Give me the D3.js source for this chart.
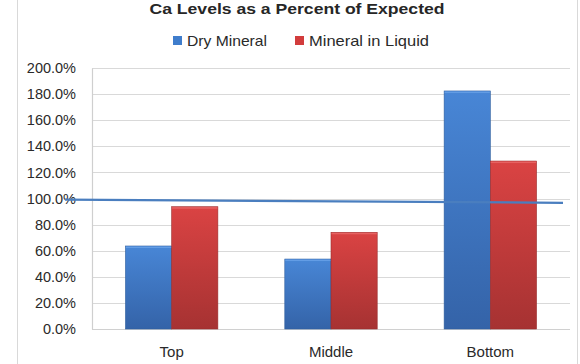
<!DOCTYPE html>
<html><head><meta charset="utf-8">
<script src="https://cdn.jsdelivr.net/npm/d3@7"></script>
<style>
html,body{margin:0;padding:0;background:#fff;}
svg{display:block;font-family:"Liberation Sans",Arial,sans-serif;}
</style></head>
<body><svg id="c" width="580" height="364"></svg>
<script>
const title = "Ca Levels as a Percent of Expected";
const categories = ["Top", "Middle", "Bottom"];
const seriesNames = ["Dry Mineral", "Mineral in Liquid"];
const dryMineral = [63.6, 53.6, 182.4];
const mineralInLiquid = [93.7, 74.1, 128.7];
const yTicks = [0, 20, 40, 60, 80, 100, 120, 140, 160, 180, 200];
// hand-drawn reference line: category-index positions and percent values at its ends
const refLineX = [-0.67, 2.456];
const refLineY = [99.2, 96.7];

const svg = d3.select("#c");
const W = 580, H = 364;
const plotL = 92, plotR = 570, plotT = 68, plotB = 329;

const defs = svg.append("defs");
const gB = defs.append("linearGradient").attr("id","gBlue").attr("x1",0).attr("y1",0).attr("x2",0).attr("y2",1);
gB.append("stop").attr("offset","0%").attr("stop-color","#4886d6");
gB.append("stop").attr("offset","100%").attr("stop-color","#3463a8");
const gR = defs.append("linearGradient").attr("id","gRed").attr("x1",0).attr("y1",0).attr("x2",0).attr("y2",1);
gR.append("stop").attr("offset","0%").attr("stop-color","#da4343");
gR.append("stop").attr("offset","100%").attr("stop-color","#a63232");
const fills = ["url(#gBlue)", "url(#gRed)"];
const strokes = ["#2f5f9e", "#9a2e2e"];
const swatch = ["#3f7dcc", "#d23c3c"];

// chart frame
svg.append("line").attr("x1",17.5).attr("x2",17.5).attr("y1",0).attr("y2",H).attr("stroke","#d9d9d9");
svg.append("line").attr("x1",577.5).attr("x2",577.5).attr("y1",0).attr("y2",H).attr("stroke","#d9d9d9");

const x0 = d3.scaleBand().domain(categories).range([plotL, plotR]).paddingInner(0.42).paddingOuter(0.21);
const x1 = d3.scaleBand().domain(seriesNames).range([0, x0.bandwidth()]);
const y = d3.scaleLinear().domain([0, 200]).range([plotB, plotT]);
const xIdx = d3.scaleLinear().domain([-0.5, categories.length - 0.5]).range([plotL, plotR]);

// gridlines
svg.append("g").selectAll("line").data(yTicks.filter(d => d > 0)).join("line")
  .attr("x1", plotL).attr("x2", plotR)
  .attr("y1", d => Math.round(y(d)) + 0.5).attr("y2", d => Math.round(y(d)) + 0.5)
  .attr("stroke", "#d9d9d9").attr("stroke-width", 1.2);

// y axis
const yAxis = d3.axisLeft(y).tickValues(yTicks).tickSize(0).tickPadding(16)
  .tickFormat(d => d3.format(".1f")(d) + "%");
const ga = svg.append("g").attr("transform", `translate(${plotL},0)`).call(yAxis);
ga.select(".domain").attr("stroke", "#cfcfcf").attr("stroke-width", 1.2);
ga.selectAll("text").attr("font-size", "14.5px").attr("fill", "#2a2a2a").attr("font-family", "'Liberation Sans',Arial,sans-serif");

// baseline
svg.append("line").attr("x1", plotL).attr("x2", plotR).attr("y1", plotB + 0.5).attr("y2", plotB + 0.5)
  .attr("stroke", "#d0d0d0").attr("stroke-width", 1.2);

// bars
const series = [dryMineral, mineralInLiquid];
const rows = [];
categories.forEach((c, i) => series.forEach((s, j) => rows.push({c, j, name: seriesNames[j], v: s[i]})));
svg.append("g").selectAll("rect").data(rows).join("rect")
  .attr("x", d => x0(d.c) + x1(d.name))
  .attr("width", x1.bandwidth())
  .attr("y", d => y(d.v))
  .attr("height", d => y(0) - y(d.v))
  .attr("fill", d => fills[d.j])
  .attr("stroke", d => strokes[d.j]).attr("stroke-width", 0.6);
// highlight on bar tops
svg.append("g").selectAll("rect").data(rows).join("rect")
  .attr("x", d => x0(d.c) + x1(d.name) + 0.5)
  .attr("width", x1.bandwidth() - 1)
  .attr("y", d => y(d.v) + 0.5)
  .attr("height", 1.5)
  .attr("fill", d => d.j === 0 ? "#6aa3e8" : "#ea6a6a").attr("opacity", 0.8);

// x labels
const xAxis = d3.axisBottom(x0).tickSize(0).tickPadding(17);
const gx = svg.append("g").attr("transform", `translate(0,${plotB})`).call(xAxis);
gx.select(".domain").remove();
gx.selectAll("text").attr("font-size", "15px").attr("fill", "#2a2a2a").attr("font-family", "'Liberation Sans',Arial,sans-serif");

// reference line
svg.append("line")
  .attr("x1", xIdx(refLineX[0])).attr("y1", y(refLineY[0]))
  .attr("x2", xIdx(refLineX[1])).attr("y2", y(refLineY[1]))
  .attr("stroke", "#4a7ebf").attr("stroke-width", 2.2);

// title
svg.append("text").attr("x", 297).attr("y", 14).attr("text-anchor", "middle")
  .attr("font-size", "15px").attr("font-weight", "bold").attr("fill", "#262626")
  .attr("textLength", 295).attr("lengthAdjust", "spacingAndGlyphs")
  .text(title);

// legend
const legX = [173, 295];
const legTextW = [80, 120];
const lg = svg.append("g");
seriesNames.forEach((n, j) => {
  lg.append("rect").attr("x", legX[j]).attr("y", 36).attr("width", 9).attr("height", 9).attr("fill", swatch[j]);
  lg.append("text").attr("x", legX[j] + 14).attr("y", 46).attr("font-size", "15px").attr("fill", "#2a2a2a")
    .attr("textLength", legTextW[j]).attr("lengthAdjust", "spacingAndGlyphs").text(n);
});
</script></body></html>
